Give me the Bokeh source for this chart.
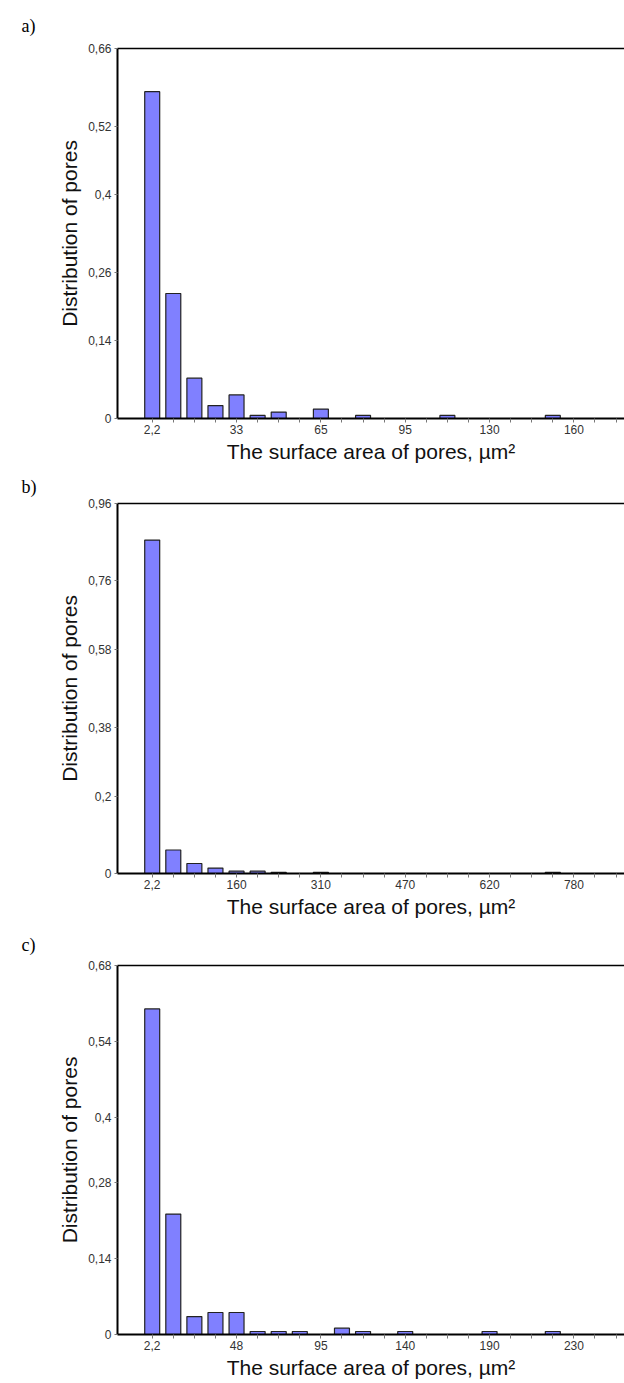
from bokeh.plotting import figure
from bokeh.layouts import column
from bokeh.models import Range1d, FixedTicker, LinearAxis
from bokeh.embed import file_html
from bokeh.resources import INLINE

# ---- data ----
bins = list(range(1, 24))
dist_a = [0.583, 0.223, 0.072, 0.023, 0.042, 0.0054, 0.0114, 0, 0.0168, 0,
          0.0054, 0, 0, 0, 0.0054, 0, 0, 0, 0, 0.0054, 0, 0, 0]
dist_b = [0.865, 0.061, 0.026, 0.014, 0.006, 0.006, 0.003, 0, 0.003, 0,
          0, 0, 0, 0, 0, 0, 0, 0, 0, 0.003, 0, 0, 0]
dist_c = [0.600, 0.222, 0.033, 0.0405, 0.0405, 0.0055, 0.0055, 0.0055, 0, 0.0116,
          0.0055, 0, 0.0055, 0, 0, 0, 0.0055, 0, 0, 0.0055, 0, 0, 0]
x_labels_a = ["2,2", "33", "65", "95", "130", "160"]
x_labels_b = ["2,2", "160", "310", "470", "620", "780"]
x_labels_c = ["2,2", "48", "95", "140", "190", "230"]
y_ticks_a = [0, 0.14, 0.26, 0.4, 0.52, 0.66]
y_ticks_b = [0, 0.2, 0.38, 0.58, 0.76, 0.96]
y_ticks_c = [0, 0.14, 0.28, 0.4, 0.54, 0.68]
panel_names = ["a)", "b)", "c)"]
x_title = "The surface area of pores, µm²"
y_title = "Distribution of pores"

LABEL_EVERY = 4


def make_panel(name, values, x_labels, y_ticks, top_border, frame_h, bottom_border, title_standoff):
    p = figure(frame_width=507, frame_height=frame_h,
               min_border_left=117, min_border_right=0,
               min_border_top=top_border, min_border_bottom=bottom_border,
               x_range=Range1d(-0.646, 23.4), y_range=Range1d(0, y_ticks[-1]),
               output_backend="svg", toolbar_location=None,
               title=name)
    p.title.text_font = "Liberation Serif"
    p.title.text_font_size = "18px"
    p.title.text_font_style = "normal"
    p.title.text_color = "black"
    p.title.align = "left"
    p.title.offset = -96
    p.title.standoff = title_standoff

    p.outline_line_color = None
    p.xgrid.visible = False
    p.ygrid.visible = False
    p.background_fill_color = "white"
    p.border_fill_color = "white"

    xs = [b for b, v in zip(bins, values) if v > 0]
    ys = [v for v in values if v > 0]
    p.vbar(x=xs, top=ys, width=0.71, bottom=0,
           fill_color="#8080ff", line_color="#222222", line_width=1.2)

    # x axis
    xa = p.xaxis[0]
    xa.ticker = FixedTicker(ticks=bins)
    overrides = {}
    for i, b in enumerate(bins):
        if i % LABEL_EVERY == 0 and i // LABEL_EVERY < len(x_labels):
            overrides[b] = x_labels[i // LABEL_EVERY]
        else:
            overrides[b] = ""
    xa.major_label_overrides = overrides
    xa.axis_line_width = 2
    xa.axis_line_color = "black"
    xa.major_tick_out = 4
    xa.major_tick_in = 0
    xa.major_tick_line_color = "#777777"
    xa.minor_tick_line_color = None
    xa.major_label_text_font = "Liberation Sans"
    xa.major_label_text_font_size = "12px"
    xa.major_label_text_color = "#333333"
    xa.major_label_standoff = 2
    xa.axis_label = x_title
    xa.axis_label_text_font = "Liberation Sans"
    xa.axis_label_text_font_size = "21px"
    xa.axis_label_text_font_style = "normal"
    xa.axis_label_text_color = "#111111"
    xa.axis_label_standoff = 3

    # y axis
    ya = p.yaxis[0]
    ya.ticker = FixedTicker(ticks=y_ticks)
    ya.major_label_overrides = {t: str(t).replace(".", ",") for t in y_ticks}
    ya.axis_line_width = 2
    ya.axis_line_color = "black"
    ya.major_tick_out = 3
    ya.major_tick_in = 0
    ya.major_tick_line_color = "#777777"
    ya.minor_tick_line_color = None
    ya.major_label_text_font = "Liberation Sans"
    ya.major_label_text_font_size = "12px"
    ya.major_label_text_color = "#333333"
    ya.major_label_standoff = 3
    ya.axis_label = y_title
    ya.axis_label_text_font = "Liberation Sans"
    ya.axis_label_text_font_size = "21px"
    ya.axis_label_text_font_style = "normal"
    ya.axis_label_text_color = "#111111"
    ya.axis_label_standoff = 4

    # top border line
    top = LinearAxis(ticker=FixedTicker(ticks=[]), axis_line_width=1.5,
                     axis_line_color="black", major_tick_line_color=None,
                     minor_tick_line_color=None, major_label_text_font_size="0px")
    p.add_layout(top, "above")
    return p


pa = make_panel(panel_names[0], dist_a, x_labels_a, y_ticks_a, 48, 370, 49, 25)
pb = make_panel(panel_names[1], dist_b, x_labels_b, y_ticks_b, 36, 370, 49, 14)
pc = make_panel(panel_names[2], dist_c, x_labels_c, y_ticks_c, 43, 369, 0, 21)

layout = column(pa, pb, pc)
open("out.html", "w").write(file_html(layout, INLINE))
